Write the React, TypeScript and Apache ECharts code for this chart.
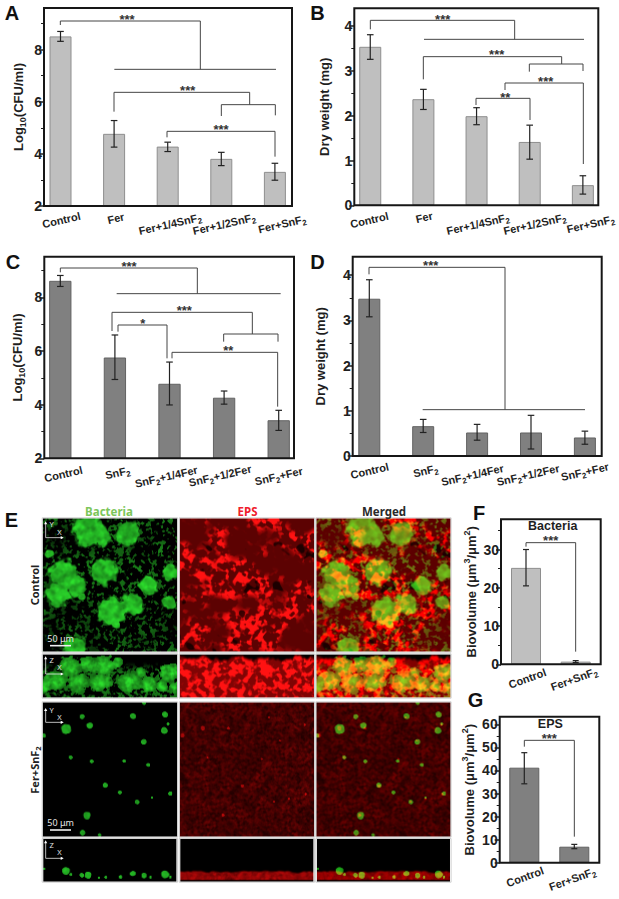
import React, { useEffect, useRef } from "react";
import * as echarts from "echarts";

// ---------- data ----------
const catsFer = ["Control", "Fer", "Fer+1/4SnF2", "Fer+1/2SnF2", "Fer+SnF2"];
const catsSn = ["Control", "SnF2", "SnF2+1/4Fer", "SnF2+1/2Fer", "SnF2+Fer"];
const catsTwo = ["Control", "Fer+SnF2"];

const aValues = [8.51, 4.77, 4.28, 3.81, 3.31];
const aLow = [8.32, 4.26, 4.09, 3.55, 2.99];
const aHigh = [8.7, 5.28, 4.45, 4.06, 3.64];

const bValues = [3.54, 2.37, 1.99, 1.415, 0.45];
const bLow = [3.26, 2.14, 1.8, 1.03, 0.25];
const bHigh = [3.81, 2.59, 2.18, 1.79, 0.66];

const cValues = [8.62, 5.76, 4.78, 4.26, 3.42];
const cLow = [8.41, 4.94, 3.99, 4.02, 3.04];
const cHigh = [8.82, 6.6, 5.59, 4.51, 3.79];

const dValues = [3.48, 0.66, 0.52, 0.52, 0.41];
const dLow = [3.08, 0.52, 0.35, 0.155, 0.26];
const dHigh = [3.9, 0.81, 0.7, 0.9, 0.55];

const fValues = [25.2, 0.7];
const fLow = [20.5, 0.44];
const fHigh = [30, 0.96];

const gValues = [41.2, 6.94];
const gLow = [34.2, 6.07];
const gHigh = [47.7, 7.95];

// ---------- micrograph blobs (reference crop px, relative to crop origin) ----------
const controlBlobs = [
  [265, 110, 50], [305, 125, 28], [380, 115, 38], [190, 235, 45], [310, 225, 42], [170, 295, 40],
  [225, 270, 32], [445, 268, 30], [330, 350, 45], [395, 325, 35], [245, 303, 12], [510, 230, 26],
  [225, 455, 35], [505, 320, 22], [145, 175, 14], [345, 385, 14],
];
const controlSideBlobs = [
  [210, 515, 32], [165, 555, 30], [232, 560, 28], [310, 510, 32], [300, 560, 28], [385, 558, 30], [445, 566, 24],
  [505, 530, 28], [350, 500, 16], [260, 505, 22], [135, 572, 18], [482, 572, 18], [420, 530, 14], [525, 575, 18],
];
const ferBlobs = [
  [197, 100, 15], [245, 63, 8], [267, 90, 11], [397, 62, 10], [493, 57, 9], [492, 105, 11], [428, 138, 9],
  [210, 185, 6], [273, 197, 6], [370, 196, 5], [442, 208, 6], [314, 268, 8], [357, 290, 6], [409, 319, 8],
  [508, 294, 7], [454, 306, 4], [259, 358, 12], [246, 410, 9], [297, 417, 5], [130, 120, 7], [430, 22, 6], [502, 85, 5],
];
const ferRedSpots = [
  [196, 98, 7], [394, 65, 4], [134, 120, 7], [272, 98, 5], [501, 88, 4], [209, 186, 3], [314, 270, 5],
  [454, 308, 4], [256, 358, 5], [409, 318, 4], [504, 295, 4], [372, 190, 3], [426, 135, 3],
];
const ferSideBlobs = [
  [195, 527, 12], [243, 540, 7], [262, 540, 11], [295, 548, 4], [315, 546, 5], [360, 545, 6], [397, 535, 9],
  [430, 540, 9], [495, 537, 13], [130, 520, 4], [210, 538, 5], [450, 546, 4], [510, 546, 4],
];

// ---------- layout ----------
const FONT = "Liberation Sans";
const INK = "#1f1f1f";
const LIGHT = { fill: "#bfbfbf", edge: "#8e8e8e" };
const DARK = { fill: "#808080", edge: "#626262" };
const ROT_WIDE = 13;
const ROT_NARROW = 20;

type Panel = {
  cats: string[]; values: number[]; low: number[]; high: number[];
  frame: number[]; center0: number; spacing: number; barW: number; capHalf: number;
  min: number; max: number; major: number[]; minor: number[]; name: string; nameGap: number;
  tone: { fill: string; edge: string }; rotate: number; shifts: number[][];
};

const NAME_LOG = "{a|Log}{s|10}{a|(CFU/ml)}";
const NAME_DRY = "{a|Dry weight (mg)}";
const NAME_BIO = "{a|Biovolume (μm}{u|3}{a|/μm}{u|2}{a|)}";

const panels: Panel[] = [
  { cats: catsFer, values: aValues, low: aLow, high: aHigh, frame: [44, 8, 292, 206], center0: 60.5, spacing: 53.6, barW: 22, capHalf: 3.3,
    min: 2, max: 9.6, major: [2, 4, 6, 8], minor: [3, 5, 7, 9], name: NAME_LOG, nameGap: 17, tone: LIGHT, rotate: ROT_WIDE,
    shifts: [[0.8, 14], [1.7, 12.3], [2.4, 18], [2.8, 18], [7.2, 18]] },
  { cats: catsFer, values: bValues, low: bLow, high: bHigh, frame: [354.3, 8.3, 598.3, 205.3], center0: 370.3, spacing: 53.25, barW: 22, capHalf: 3.3,
    min: 0, max: 4.4, major: [0, 1, 2, 3, 4], minor: [0.5, 1.5, 2.5, 3.5], name: NAME_DRY, nameGap: 21, tone: LIGHT, rotate: ROT_WIDE,
    shifts: [[-1, 14.7], [0.7, 12], [1.3, 18.7], [5, 18.7], [7.7, 18.7]] },
  { cats: catsSn, values: cValues, low: cLow, high: cHigh, frame: [44.3, 256.7, 294, 458.3], center0: 60.3, spacing: 54.6, barW: 22.3, capHalf: 3.3,
    min: 2, max: 9.52, major: [2, 4, 6, 8], minor: [3, 5, 7, 9], name: NAME_LOG, nameGap: 18, tone: DARK, rotate: ROT_WIDE,
    shifts: [[3, 15.7], [2.7, 14.3], [-3.3, 18.3], [-4, 17.3], [0, 17.7]] },
  { cats: catsSn, values: dValues, low: dLow, high: dHigh, frame: [352.7, 256.7, 601.7, 456], center0: 369.3, spacing: 53.9, barW: 22, capHalf: 3.3,
    min: 0, max: 4.41, major: [0, 1, 2, 3, 4], minor: [0.5, 1.5, 2.5, 3.5], name: NAME_DRY, nameGap: 23, tone: DARK, rotate: ROT_WIDE,
    shifts: [[0.3, 14.7], [2.3, 14.7], [-4.7, 19], [-3, 19], [0, 15.7]] },
  { cats: catsTwo, values: fValues, low: fLow, high: fHigh, frame: [501, 519.3, 600.7, 664.3], center0: 526, spacing: 49.7, barW: 30, capHalf: 3,
    min: 0, max: 37.9, major: [0, 10, 20, 30], minor: [5, 15, 25, 35], name: NAME_BIO, nameGap: 21, tone: LIGHT, rotate: ROT_NARROW,
    shifts: [[1.3, 14], [-1.7, 14.7]] },
  { cats: catsTwo, values: gValues, low: gLow, high: gHigh, frame: [499.7, 716.7, 599.3, 862.7], center0: 524.3, spacing: 50, barW: 30, capHalf: 3,
    min: 0, max: 63.3, major: [0, 10, 20, 30, 40, 50, 60], minor: [5, 15, 25, 35, 45, 55], name: NAME_BIO, nameGap: 21, tone: DARK, rotate: ROT_NARROW,
    shifts: [[0.7, 14], [-2, 16.3]] },
];

// brackets: [crop x, crop y, polyline points in crop px (3x)]
const brackets: [number, number, number[][]][] = [
  [0, 0, [[181, 75], [181, 63], [601, 63], [601, 208]]],
  [0, 0, [[343, 208], [828, 208]]],
  [0, 0, [[342, 335], [342, 277], [749, 277], [749, 314]]],
  [0, 0, [[664, 348], [664, 314], [826, 314], [826, 346]]],
  [0, 0, [[501, 412], [501, 394], [825, 394], [825, 470]]],
  [310, 0, [[181, 88], [181, 61], [614, 61], [614, 118]]],
  [310, 0, [[342, 118], [822, 118]]],
  [310, 0, [[340, 238], [340, 170], [755, 170], [755, 192]]],
  [310, 0, [[658, 215], [658, 192], [819, 192], [819, 213]]],
  [310, 0, [[585, 270], [585, 249], [820, 249], [820, 492]]],
  [310, 0, [[498, 315], [498, 295], [660, 295], [660, 360]]],
  [0, 245, [[181, 82], [181, 69], [592, 69], [592, 146]]],
  [0, 245, [[350, 146], [842, 146]]],
  [0, 245, [[336, 258], [336, 202], [757, 202], [757, 267]]],
  [0, 245, [[671, 290], [671, 267], [834, 267], [834, 290]]],
  [0, 245, [[354, 260], [354, 240], [501, 240], [501, 340]]],
  [0, 245, [[516, 340], [516, 322], [833, 322], [833, 485]]],
  [310, 245, [[177, 88], [177, 67], [585, 67], [585, 494]]],
  [310, 245, [[338, 494], [825, 494]]],
  [455, 500, [[213, 140], [213, 128], [362, 128], [362, 455]]],
  [455, 695, [[208, 155], [208, 136], [358, 136], [358, 425]]],
];
const stars: [number, number, number, number, string][] = [
  [0, 0, 381, 50, "***"], [0, 0, 563, 263, "***"], [0, 0, 663, 380, "***"],
  [310, 0, 398, 50, "***"], [310, 0, 560, 157, "***"], [310, 0, 707, 238, "***"], [310, 0, 586, 285, "**"],
  [0, 245, 387, 56, "***"], [0, 245, 553, 188, "***"], [0, 245, 428, 228, "*"], [0, 245, 685, 310, "**"],
  [310, 245, 362, 54, "***"], [455, 500, 287, 115, "***"], [455, 695, 283, 123, "***"],
];
const panelLetters: [string, number, number][] = [
  ["A", 12, 22], ["B", 317.5, 22], ["C", 13, 271], ["D", 317.5, 271], ["E", 11.5, 529], ["F", 479, 522], ["G", 475.5, 709],
];

// ---------- micrographs ----------
const hash = (ix: number, iy: number, seed: number) => {
  let h = (Math.imul(ix + 1013, 374761393) ^ Math.imul(iy + 2027, 668265263) ^ Math.imul(seed + 7, 1274126177)) | 0;
  h = Math.imul(h ^ (h >>> 15), 2246822519);
  h = Math.imul(h ^ (h >>> 13), 3266489917);
  return ((h ^ (h >>> 16)) >>> 0) / 4294967296;
};
const fade = (t: number) => t * t * (3 - 2 * t);
const rawNoise = (x: number, y: number, s: number, seed: number) => {
  const fx = (x * 0.8 + y * 0.6) / s + seed * 0.37, fy = (y * 0.8 - x * 0.6) / s + seed * 0.71;
  const ix = Math.floor(fx), iy = Math.floor(fy);
  const tx = fade(fx - ix), ty = fade(fy - iy);
  const a = hash(ix, iy, seed), b = hash(ix + 1, iy, seed), c = hash(ix, iy + 1, seed), d = hash(ix + 1, iy + 1, seed);
  return (a * (1 - tx) + b * tx) * (1 - ty) + (c * (1 - tx) + d * tx) * ty;
};
// two octaves, so the texture looks organic
const noise = (x: number, y: number, s: number, seed: number) =>
  rawNoise(x, y, s, seed) * 0.68 + rawNoise(x + 17, y + 9, s * 0.48, seed + 100) * 0.32;
const clamp = (v: number) => Math.max(0, Math.min(1, v));
const edge = (a: number, b: number, v: number) => fade(clamp((v - a) / (b - a)));

// 1 at the centre of the nearest blob, falling to 0 past its irregular rim
const blobField = (x: number, y: number, blobs: number[][], ox: number, oy: number, wobble: number) => {
  let best = 0;
  const w = (noise(x, y, 5, 11) - 0.5) * wobble;
  for (const [cx, cy, r] of blobs) {
    const d = Math.hypot(x - (cx - ox) / 3, y - (cy - oy) / 3) / (r / 3) + w;
    best = Math.max(best, 1 - edge(0.8, 1.08, d));
  }
  return best;
};
const moundField = (x: number, y: number, blobs: number[][], ox: number, oy: number) => {
  let best = 0;
  const w = (noise(x, y, 3.5, 12) - 0.5) * 0.7;
  for (const [cx, cy, r] of blobs) {
    const d = Math.hypot(x - (cx - ox) / 3, (y - (cy - oy) / 3) * 1.1) / (r / 3) + w;
    if (d < 1.1) best = Math.max(best, 0.5 + 0.5 * (1 - d * d * 0.7));
  }
  return best;
};

type Chan = (x: number, y: number) => [number, number];

const controlXY: Chan = (x, y) => {
  const b = blobField(x, y, controlBlobs, 128, 70, 0.6);
  const grain = edge(0.54, 0.68, noise(x, y, 2.8, 3)) * (0.1 + 0.6 * noise(x, y, 22, 5));
  const g = Math.max(b * (0.55 + 0.5 * noise(x, y, 5, 2)), grain);
  const tex = noise(x, y, 4.4, 7);
  const broad = noise(x, y, 20, 8);
  const hole = edge(0.2, 0.28, noise(x, y, 11, 9));
  const r = (0.36 + 0.72 * edge(0.42, 0.68, tex) * edge(0.25, 0.62, broad)) * (0.3 + 0.7 * hole);
  return [clamp(r), clamp(g)];
};
const controlXZ: Chan = (x, y) => {
  const h = 43;
  const m = moundField(x, y, controlSideBlobs, 128, 478);
  const grain = edge(0.44, 0.62, noise(x, y, 2.6, 22)) * 0.5 * edge(6, 18, y);
  const tex = 0.62 + 0.5 * noise(x, y, 3.4, 23);
  const g = y > h - 1 ? 0 : clamp(Math.max(m * tex, grain));
  const topRed = edge(1, 6, y + (noise(x, 0, 7, 24) - 0.5) * 9);
  const r = y > h - 1 ? 0.06 : topRed * clamp(0.5 + 0.6 * edge(0.36, 0.68, noise(x, y, 4, 25)));
  return [r, g];
};
const ferXY: Chan = (x, y) => {
  const g = blobField(x, y, ferBlobs, 128, 22, 0.45) * (0.62 + 0.2 * noise(x, y, 3, 31));
  const spot = blobField(x, y, ferRedSpots, 128, 22, 0.4);
  const r = 0.1 + 0.32 * noise(x, y, 2.4, 32) * (0.6 + 0.8 * noise(x, y, 9, 33)) + 0.4 * spot;
  return [r, g];
};
const ferXZ: Chan = (x, y) => {
  const g = blobField(x, y, ferSideBlobs, 128, 432, 0.4) * (0.68 + 0.2 * noise(x, y, 3, 41));
  const top = 30 + 4 * noise(x, 0, 9, 42);
  const band = edge(top - 1, top + 2, y) * (1 - edge(40, 41.5, y));
  const r = band * (0.35 + 0.4 * noise(x, y, 3, 43));
  return [r, g];
};

const paint = (w: number, h: number, chan: Chan, mode: "g" | "r" | "m") => {
  const c = document.createElement("canvas");
  c.width = w;
  c.height = h;
  const ctx = c.getContext("2d")!;
  const img = ctx.createImageData(w, h);
  for (let y = 0; y < h; y++) {
    for (let x = 0; x < w; x++) {
      const [r, g] = chan(x, y);
      const i = (y * w + x) * 4;
      if (mode === "g") {
        img.data[i] = 45 * g; img.data[i + 1] = 225 * g; img.data[i + 2] = 45 * g;
      } else if (mode === "r") {
        img.data[i] = 255 * r; img.data[i + 1] = 18 * r * r; img.data[i + 2] = 18 * r * r;
      } else {
        img.data[i] = 255 * clamp(r * (1 - 0.15 * g) + 0.14 * g);
        img.data[i + 1] = 225 * g * 0.92;
        img.data[i + 2] = 30 * g;
      }
      img.data[i + 3] = 255;
    }
  }
  ctx.putImageData(img, 0, 0);
  return c.toDataURL("image/png");
};

// ---------- helpers ----------
const richLabel = (cat: string) =>
  cat.split("SnF2").map((part, i) => (i > 0 ? "{a|SnF}{s|2}" : "") + (part ? `{a|${part}}` : "")).join("");

const labelPadding = (dx: number, dy: number, margin: number, rotate: number) => {
  const t = (rotate * Math.PI) / 180;
  const d = dy - margin;
  const lx = dx * Math.cos(t) - d * Math.sin(t);
  const ly = dx * Math.sin(t) + d * Math.cos(t);
  return [Math.max(2 * ly, 0), Math.max(-2 * lx, 0), Math.max(-2 * ly, 0), Math.max(2 * lx, 0)];
};

const LABEL_RICH = {
  a: { fontSize: 11, fontWeight: "bold", fontFamily: FONT, color: INK, lineHeight: 16 },
  s: { fontSize: 8, fontWeight: "bold", fontFamily: FONT, color: INK, lineHeight: 9, verticalAlign: "bottom" },
};
const NAME_RICH = {
  a: { fontSize: 13, fontWeight: "bold", fontFamily: FONT, color: INK, lineHeight: 18 },
  s: { fontSize: 9, fontWeight: "bold", fontFamily: FONT, color: INK, lineHeight: 10, verticalAlign: "bottom" },
  u: { fontSize: 9, fontWeight: "bold", fontFamily: FONT, color: INK, lineHeight: 10, verticalAlign: "top" },
};

const buildOption = () => {
  const grid: any[] = [], xAxis: any[] = [], yAxis: any[] = [], series: any[] = [], graphic: any[] = [];
  panels.forEach((p, i) => {
    const [fl, ft, fr, fb] = p.frame;
    const left = p.center0 - p.spacing / 2;
    grid.push({ left, top: ft, width: p.spacing * p.cats.length, height: fb - ft });
    const margin = 14;
    xAxis.push({
      type: "category", gridIndex: i, position: "bottom",
      data: p.cats.map((c, j) => ({
        value: c,
        textStyle: {
          align: "center", verticalAlign: "middle",
          padding: labelPadding(p.shifts[j][0], p.shifts[j][1], margin, p.rotate),
        },
      })),
      axisLine: { show: false }, axisTick: { show: false },
      axisLabel: {
        interval: 0, rotate: p.rotate, margin, align: "center", verticalAlign: "middle", hideOverlap: false,
        formatter: (v: string) => richLabel(v), rich: LABEL_RICH,
      },
    });
    const offset = left - fl;
    yAxis.push({
      type: "value", gridIndex: i, position: "left", min: p.min, max: p.max, offset, splitLine: { show: false },
      axisLine: { show: false },
      axisTick: { show: true, length: 5, customValues: p.major, lineStyle: { color: INK, width: 1.5 } },
      axisLabel: {
        show: true, margin: 2, customValues: p.major, color: INK,
        fontSize: 14, fontWeight: "bold", fontFamily: FONT,
      },
      name: p.name, nameLocation: "middle", nameGap: p.nameGap,
      nameTextStyle: { rich: NAME_RICH },
    });
    const minorIdx = yAxis.length;
    yAxis.push({
      type: "value", gridIndex: i, position: "left", min: p.min, max: p.max, offset, splitLine: { show: false },
      axisLine: { show: false }, axisLabel: { show: false },
      axisTick: { show: true, length: 3, customValues: p.minor, lineStyle: { color: INK, width: 1 } },
    });
    const yIdx = minorIdx - 1;
    series.push({
      type: "bar", xAxisIndex: i, yAxisIndex: yIdx, data: p.values, barWidth: p.barW, silent: true,
      itemStyle: { color: p.tone.fill, borderColor: p.tone.edge, borderWidth: 1 },
    });
    series.push({
      type: "custom", xAxisIndex: i, yAxisIndex: yIdx, silent: true, z: 5,
      data: p.values.map((_, j) => [j, p.low[j], p.high[j]]),
      encode: { x: 0, y: [1, 2] },
      renderItem: (_: any, api: any) => {
        const a = api.coord([api.value(0), api.value(1)]);
        const b = api.coord([api.value(0), api.value(2)]);
        const st = { stroke: "#222222", lineWidth: 1.2, fill: "none" };
        const seg = (x1: number, y1: number, x2: number, y2: number) => ({ type: "line", shape: { x1, y1, x2, y2 }, style: st });
        return {
          type: "group",
          children: [
            seg(a[0], a[1], b[0], b[1]),
            seg(a[0] - p.capHalf, a[1], a[0] + p.capHalf, a[1]),
            seg(b[0] - p.capHalf, b[1], b[0] + p.capHalf, b[1]),
          ],
        };
      },
    });
    graphic.push({
      type: "rect", z: 20, silent: true, shape: { x: fl, y: ft, width: fr - fl, height: fb - ft },
      style: { fill: "none", stroke: "#161616", lineWidth: 2 },
    });
  });

  brackets.forEach(([ox, oy, pts]) => {
    graphic.push({
      type: "polyline", z: 15, silent: true,
      shape: { points: pts.map(([x, y]) => [ox + x / 3, oy + y / 3]) },
      style: { fill: "none", stroke: "#454545", lineWidth: 1 },
    });
  });
  stars.forEach(([ox, oy, x, y, text]) => {
    graphic.push({
      type: "text", z: 15, silent: true, x: ox + x / 3, y: oy + y / 3 + 2.5,
      style: { text, fontSize: 13, fontWeight: "bold", fontFamily: FONT, fill: "#333", align: "center", verticalAlign: "middle" },
    });
  });
  panelLetters.forEach(([text, x, y]) => {
    graphic.push({
      type: "text", silent: true, x, y: y + 1,
      style: { text, fontSize: 20, fontWeight: "bold", fontFamily: FONT, fill: "#111", align: "center", verticalAlign: "bottom" },
    });
  });
  const titleText = (text: string, x: number, y: number, fill: string, size: number, family: string, rotation = 0) => ({
    type: "text", silent: true, x, y, rotation,
    style: { text, fontSize: size, fontWeight: "bold", fontFamily: family, fill, align: "center", verticalAlign: "middle" },
  });
  graphic.push(titleText("Bacteria", 552.7, 526, "#1f1f1f", 12.5, FONT));
  graphic.push(titleText("EPS", 550.3, 724.3, "#1f1f1f", 12.5, FONT));

  // micrograph panel
  const cols = [42.7, 179.7, 316.3];
  const colW = 134.3;
  const rows: [number, number, Chan][] = [
    [518.3, 133.4, controlXY], [654.3, 43.4, controlXZ], [702.3, 134.4, ferXY], [839, 42.7, ferXZ],
  ];
  const modes: ("g" | "r" | "m")[] = ["g", "r", "m"];
  rows.forEach(([y, h, chan]) => {
    cols.forEach((x, c) => {
      graphic.push({
        type: "image", silent: true,
        style: { image: paint(Math.round(colW), Math.round(h), chan, modes[c]), x, y, width: colW, height: h },
      });
      graphic.push({
        type: "rect", silent: true, shape: { x: x - 0.5, y: y - 0.5, width: colW + 1, height: h + 1 },
        style: { fill: "none", stroke: "#cfcfcf", lineWidth: 1 },
      });
    });
  });
  const noto = "Noto Sans";
  graphic.push(titleText("Bacteria", 109, 511, "#7cc65a", 11.5, noto));
  graphic.push(titleText("EPS", 247.5, 511, "#f0202c", 11.5, noto));
  graphic.push(titleText("Merged", 384, 511, "#2a2a2a", 11.5, noto));
  graphic.push(titleText("Control", 34, 585, "#222", 11, noto, Math.PI / 2));
  graphic.push({
    type: "text", silent: true, x: 34, y: 770, rotation: Math.PI / 2,
    style: {
      text: "{a|Fer+SnF}{s|2}", align: "center", verticalAlign: "middle",
      rich: {
        a: { fontSize: 11, fontWeight: "bold", fontFamily: noto, fill: "#222", lineHeight: 16 },
        s: { fontSize: 7.5, fontWeight: "bold", fontFamily: noto, fill: "#222", lineHeight: 9, verticalAlign: "bottom" },
      },
    },
  });

  // compass glyphs and scale bars inside the images
  const compass = (oy: number, cornerY: number, tipY: number, a: string, aY: number, xY: number) => {
    const cx = 137 / 3, cy = oy + cornerY / 3, ty = oy + tipY / 3, ex = 185 / 3;
    const st = { fill: "none", stroke: "#e8e8e8", lineWidth: 0.8 };
    graphic.push({ type: "polyline", silent: true, z: 6, shape: { points: [[cx, ty], [cx, cy], [ex, cy]] }, style: st });
    graphic.push({ type: "polygon", silent: true, z: 6, shape: { points: [[cx, ty - 2], [cx - 1.6, ty + 1], [cx + 1.6, ty + 1]] }, style: { fill: "#fff" } });
    graphic.push({ type: "polygon", silent: true, z: 6, shape: { points: [[ex + 2, cy], [ex - 1, cy - 1.6], [ex - 1, cy + 1.6]] }, style: { fill: "#fff" } });
    const t = (text: string, x: number, y: number) =>
      graphic.push({
        type: "text", silent: true, z: 6, x, y,
        style: { text, fontSize: 7.5, fontFamily: noto, fill: "#e0e0e0", align: "center", verticalAlign: "middle" },
      });
    t(a, 155 / 3, oy + aY / 3);
    t("X", 178 / 3, oy + xY / 3);
  };
  compass(495, 128, 85, "Y", 88, 110);
  compass(495, 537, 490, "Z", 495, 517);
  compass(695, 82, 45, "Y", 44, 66);
  compass(695, 490, 442, "Z", 450, 472);

  const scale = (oy: number, textY: number, barY: number) => {
    graphic.push({
      type: "text", silent: true, z: 6, x: 182 / 3, y: oy + textY / 3,
      style: { text: "50 μm", fontSize: 9, fontFamily: noto, fill: "#e6e6e6", align: "center", verticalAlign: "middle" },
    });
    graphic.push({
      type: "line", silent: true, z: 6, shape: { x1: 150 / 3, y1: oy + barY / 3, x2: 213 / 3, y2: oy + barY / 3 },
      style: { stroke: "#f0f0f0", lineWidth: 1.6 },
    });
  };
  scale(495, 430, 452);
  scale(695, 382, 405);

  return {
    animation: false, backgroundColor: "#fff", grid, xAxis, yAxis, series, graphic: { elements: graphic },
  };
};

export default function App() {
  const ref = useRef<HTMLDivElement>(null);
  useEffect(() => {
    document.body.style.margin = "0";
    const chart = echarts.init(ref.current!, null, { renderer: "svg" });
    chart.setOption(buildOption() as any);
    return () => chart.dispose();
  }, []);
  return <div ref={ref} style={{ width: 619, height: 899 }} />;
}
